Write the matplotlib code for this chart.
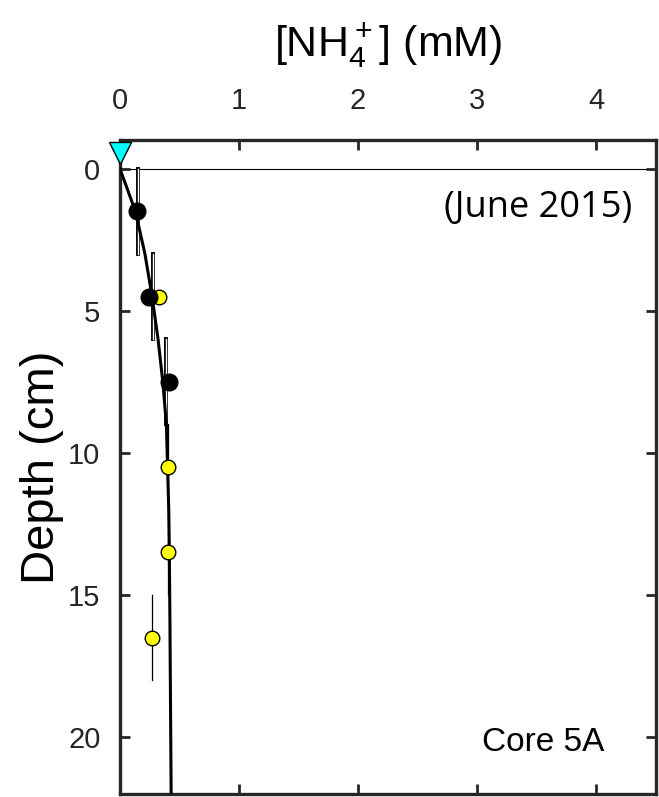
import numpy as np
import matplotlib.pyplot as plt

# Measured porewater ammonium, core 5A
depth_black = [1.5, 4.5, 7.5]
nh4_black = [0.14, 0.24, 0.41]
depth_yellow = [4.5, 10.5, 13.5, 16.5]
nh4_yellow = [0.33, 0.40, 0.40, 0.27]
err_depth = 1.5

# x position of the error bar lines
ebar_black_x = [0.15, 0.28, 0.39]
ebar_yellow_x = [0.27, 0.40, 0.40, 0.27]

# Model profile
model_depth = [0, 1.5, 3, 4.5, 6, 7.5, 9, 10.5, 12, 13.5, 16, 19, 22]
model_nh4 = [0, 0.13, 0.21, 0.27, 0.32, 0.36, 0.39, 0.40, 0.41, 0.415, 0.42, 0.425, 0.43]

# Bottom water sample
bw_nh4 = 0.0
bw_depth = -0.56

plt.rcParams['font.family'] = ['Liberation Sans', 'DejaVu Sans']
fig = plt.figure(figsize=(6.59, 7.97), dpi=100)
ax = fig.add_axes([0.182, 0.004, 0.813, 0.82])

# sediment-water interface
ax.axhline(0, color='black', lw=0.8, zorder=1)

# error bars: single for yellow, double-line for black
for x, d in zip(ebar_yellow_x, depth_yellow):
    ax.plot([x, x], [d - err_depth, d + err_depth], color='black', lw=0.9, zorder=2)
for x, d in zip(ebar_black_x, depth_black):
    ax.plot([x, x], [d - err_depth, d + err_depth], color='black', lw=2.8, zorder=2)
    ax.plot([x, x], [d - err_depth, d + err_depth], color='white', lw=1.0, zorder=2)

ax.plot(model_nh4, model_depth, color='black', lw=2.2, zorder=3)

ax.plot(nh4_yellow, depth_yellow, 'o', ms=10.5, mfc='yellow', mec='black',
        mew=1.0, ls='none', zorder=4)
ax.plot(nh4_black, depth_black, 'o', ms=12, mfc='black', mec='black',
        ls='none', zorder=5)
ax.plot([bw_nh4], [bw_depth], 'v', ms=16, mfc='cyan', mec='black',
        mew=1.0, clip_on=False, zorder=6)

ax.set_xlim(0, 4.5)
ax.set_ylim(22, -1)
ax.set_xticks([0, 1, 2, 3, 4])
ax.set_yticks([0, 5, 10, 15, 20])
ax.xaxis.tick_top()
ax.xaxis.set_label_position('top')
ax.tick_params(direction='in', length=7, width=2, colors='#262626',
               labelsize=21, top=True, bottom=True, left=True, right=True,
               labeltop=True, labelbottom=False)
ax.tick_params(axis='x', pad=18)
ax.tick_params(axis='y', pad=14)
for s in ax.spines.values():
    s.set_linewidth(2.4)
    s.set_color('#262626')

ax.set_xlabel(r'$\mathregular{[NH_4^+]}$ (mM)', fontsize=31, labelpad=22)
ax.set_ylabel('Depth (cm)', fontsize=34, labelpad=3)

ax.text(4.3, 1.37, '(June 2015)', fontsize=26, ha='right', va='center',
        family=['Open Sans', 'DejaVu Sans'])
ax.text(4.07, 20.2, 'Core 5A', fontsize=24, ha='right', va='center')

fig.savefig('out.png', dpi=100)
